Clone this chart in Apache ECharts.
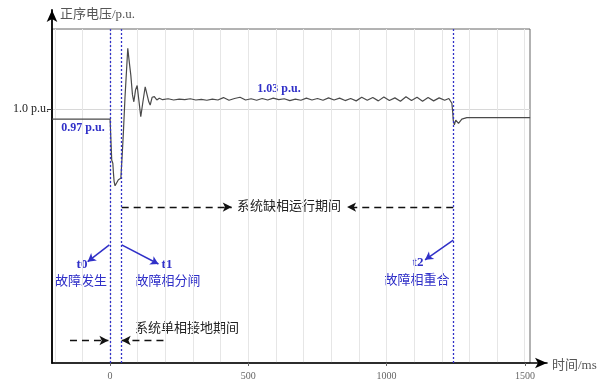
<!DOCTYPE html>
<html>
<head>
<meta charset="utf-8">
<script src="https://cdn.jsdelivr.net/npm/echarts@6/dist/echarts.min.js"></script>
<style>html,body{margin:0;padding:0;background:#fff}#c{width:613px;height:381px}</style>
</head>
<body>
<div id="c"></div>
<script>
// ---- data ----
const timeMs = [-210, 0, 2.5, 6, 10, 12, 14.5, 18, 24, 30, 39, 44, 48, 54, 64, 70, 75, 81, 86, 92, 98, 104, 111, 118, 127, 133, 140, 145, 152, 160, 169, 178,
  190, 210, 230, 250, 270, 290, 310, 330, 350, 370, 390, 410, 430, 450, 470, 490, 510, 530, 550, 570, 590, 610, 630, 650, 670, 690, 710, 730, 750, 770, 790,
  810, 830, 850, 870, 890, 910, 930, 950, 970, 990, 1010, 1030, 1050, 1070, 1090, 1110, 1130, 1150, 1170, 1190, 1210, 1225,
  1236, 1239, 1241, 1245, 1250, 1254, 1260, 1272, 1290, 1519];
const voltagePu = [0.967, 0.967, 0.967, 0.83, 0.82, 0.79, 0.76, 0.745, 0.755, 0.765, 0.77, 0.85, 0.92, 1.04, 1.203, 1.153, 1.114, 1.048, 1.025, 1.064, 1.079, 1.031, 0.975, 1.02, 1.075, 1.075, 1.025, 1.014, 1.04, 1.042, 1.031, 1.037,
  1.032, 1.035, 1.031, 1.034, 1.032, 1.035, 1.031, 1.033, 1.030, 1.034, 1.031, 1.039, 1.030, 1.036, 1.040, 1.031, 1.035, 1.030, 1.036, 1.031, 1.037, 1.032, 1.035, 1.029, 1.034, 1.030, 1.037, 1.031, 1.036, 1.030, 1.038,
  1.031, 1.037, 1.029, 1.036, 1.028, 1.040, 1.030, 1.039, 1.028, 1.041, 1.029, 1.038, 1.027, 1.042, 1.029, 1.040, 1.027, 1.039, 1.028, 1.038, 1.030, 1.036,
  1.02, 0.99, 0.963, 0.948, 0.964, 0.97, 0.953, 0.967, 0.972, 0.972];
const eventTimes = [0, 42, 1241];
const eventTags = ['t0', 't1', 't2'];
const eventTexts = ['故障发生', '故障相分闸', '故障相重合'];
const xTickLabels = [0, 500, 1000, 1500];
const gridTicks = [-200, -100, 0, 100, 200, 300, 400, 500, 600, 700, 800, 900, 1000, 1100, 1200, 1300, 1400, 1500];
const yTickValues = [1.0];
const preFaultText = '0.97 p.u.';
const steadyText = '1.03 p.u.';
const openPhaseText = '系统缺相运行期间';
const groundFaultText = '系统单相接地期间';
const yName = '正序电压/p.u.';
const xName = '时间/ms';

const BLUE = '#3030c8';
const SERIF = '"Liberation Serif","Noto Sans CJK SC",serif';
const CJK = '"Liberation Serif","Noto Sans CJK SC",sans-serif';

const chart = echarts.init(document.getElementById('c'), null, {renderer: 'canvas'});

const seriesData = timeMs.map((t, i) => [t, voltagePu[i]]);

const yBottom = 0.154, yBoxTop = 1.2673;
const eventLines = eventTimes.map(t => [
  {coord: [t, yBottom], symbol: 'none'},
  {coord: [t, yBoxTop], symbol: 'none'}
]);
const dashStyle = () => ({color: '#111', type: [7, 5], width: 1.3});
const periodArrows = [
  [{coord: [42, 0.674], symbol: 'none', lineStyle: dashStyle()}, {coord: [440, 0.674], symbol: 'arrow', symbolSize: [7, 9]}],
  [{coord: [1241, 0.674], symbol: 'none', lineStyle: dashStyle()}, {coord: [857, 0.674], symbol: 'arrow', symbolSize: [7, 9]}],
  [{coord: [-145, 0.229], symbol: 'none', lineStyle: dashStyle()}, {coord: [-6, 0.229], symbol: 'arrow', symbolSize: [7, 9]}],
  [{coord: [193, 0.229], symbol: 'none', lineStyle: dashStyle()}, {coord: [42, 0.229], symbol: 'arrow', symbolSize: [7, 9]}]
];
const ptrStyle = () => ({color: BLUE, type: 'solid', width: 1.5});
const pointerArrows = [
  [{coord: [-2.5, 0.548], symbol: 'none', lineStyle: ptrStyle()}, {coord: [-81, 0.492], symbol: 'arrow', symbolSize: [7, 8]}],
  [{coord: [42, 0.548], symbol: 'none', lineStyle: ptrStyle()}, {coord: [175, 0.484], symbol: 'arrow', symbolSize: [7, 8]}],
  [{coord: [1241, 0.564], symbol: 'none', lineStyle: ptrStyle()}, {coord: [1139, 0.498], symbol: 'arrow', symbolSize: [7, 8]}]
];

const tagPos = [[82, 265], [167, 265], [418, 263]];
const textPos = [[81, 282], [168, 282], [417, 281]];

const graphics = [];
eventTags.forEach((s, i) => {
  graphics.push({type: 'text', x: tagPos[i][0], y: tagPos[i][1], style: {text: s, fill: BLUE, font: 'bold 13px ' + SERIF, textAlign: 'center', textVerticalAlign: 'middle'}});
  graphics.push({type: 'text', x: textPos[i][0], y: textPos[i][1], style: {text: eventTexts[i], fill: BLUE, font: '13px ' + CJK, textAlign: 'center', textVerticalAlign: 'middle'}});
});
graphics.push({type: 'text', x: 83, y: 128, style: {text: preFaultText, fill: BLUE, font: 'bold 12px ' + SERIF, textAlign: 'center', textVerticalAlign: 'middle'}});
graphics.push({type: 'text', x: 279, y: 89, style: {text: steadyText, fill: BLUE, font: 'bold 12px ' + SERIF, textAlign: 'center', textVerticalAlign: 'middle'}});
graphics.push({type: 'text', x: 289, y: 207, style: {text: openPhaseText, fill: '#222', font: '13px ' + CJK, textAlign: 'center', textVerticalAlign: 'middle'}});
graphics.push({type: 'text', x: 187, y: 329, style: {text: groundFaultText, fill: '#222', font: '13px ' + CJK, textAlign: 'center', textVerticalAlign: 'middle'}});
graphics.push({type: 'text', x: 60, y: 15, style: {text: yName, fill: '#555', font: '13px ' + CJK, textAlign: 'left', textVerticalAlign: 'middle'}});
graphics.push({type: 'text', x: 552, y: 366, style: {text: xName, fill: '#555', font: '13px ' + CJK, textAlign: 'left', textVerticalAlign: 'middle'}});

chart.setOption({
  animation: false,
  backgroundColor: '#fff',
  grid: [
    {left: 52, top: 10, width: 495, height: 353, containLabel: false},
    {left: 52, top: 29, width: 478, height: 334, show: true, borderColor: '#666', borderWidth: 1, backgroundColor: 'transparent', z: 0}
  ],
  xAxis: [
    {type: 'value', gridIndex: 0, min: -210, max: 1580,
      axisLine: {show: true, onZero: false, lineStyle: {color: '#000', width: 1.6}, symbol: ['none', 'arrow'], symbolSize: [8, 12]},
      axisTick: {show: true, length: 3, lineStyle: {color: '#666'}, customValues: xTickLabels},
      axisLabel: {show: true, customValues: xTickLabels, formatter: v => String(v), color: '#666', fontFamily: SERIF, fontSize: 10, margin: 8},
      splitLine: {show: false}},
    {type: 'value', gridIndex: 1, min: -210, max: 1519,
      axisLine: {show: false}, axisLabel: {show: false},
      axisTick: {show: false, customValues: gridTicks},
      splitLine: {show: true, lineStyle: {color: '#e6e6e6', width: 1}}}
  ],
  yAxis: [
    {type: 'value', gridIndex: 0, min: yBottom, max: 1.331,
      axisLine: {show: true, onZero: false, lineStyle: {color: '#000', width: 1.8}, symbol: ['none', 'arrow'], symbolSize: [8, 12]},
      axisTick: {show: true, length: 5, lineStyle: {color: '#333'}, customValues: yTickValues},
      axisLabel: {show: true, customValues: yTickValues, formatter: v => v.toFixed(1) + ' p.u.', color: '#222', fontFamily: SERIF, fontSize: 12, margin: 3},
      splitLine: {show: false}},
    {type: 'value', gridIndex: 1, min: yBottom, max: yBoxTop,
      axisLine: {show: false}, axisLabel: {show: false},
      axisTick: {show: false, customValues: yTickValues},
      splitLine: {show: true, lineStyle: {color: '#d8d8d8', width: 1}}}
  ],
  series: [
    {type: 'line', name: 'voltage', xAxisIndex: 0, yAxisIndex: 0, data: seriesData, symbol: 'none', z: 3,
      lineStyle: {color: '#4a4a4a', width: 1.2},
      markLine: {silent: true, animation: false, label: {show: false}, z: 4,
        data: periodArrows.concat(pointerArrows)}},
    {type: 'line', name: 'events', xAxisIndex: 0, yAxisIndex: 0, data: [], symbol: 'none', z: 4,
      itemStyle: {color: BLUE}, lineStyle: {color: BLUE},
      markLine: {silent: true, animation: false, label: {show: false}, z: 4, symbol: ['none', 'none'],
        lineStyle: {color: BLUE, type: [2, 2], width: 1.3},
        data: eventLines}}
  ],
  graphic: graphics
});
</script>
</body>
</html>
